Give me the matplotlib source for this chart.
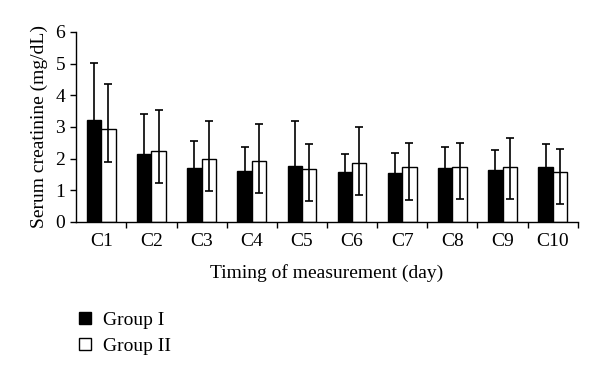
import numpy as np
import matplotlib.pyplot as plt
from matplotlib.lines import Line2D

plt.rcParams['font.family'] = ['Liberation Serif', 'DejaVu Serif']

# Data
labels = ["C1", "C2", "C3", "C4", "C5", "C6", "C7", "C8", "C9", "C10"]
g1_mean = [3.21, 2.14, 1.71, 1.61, 1.77, 1.57, 1.55, 1.71, 1.63, 1.72]
g1_upper = [5.02, 3.40, 2.55, 2.37, 3.20, 2.15, 2.17, 2.36, 2.26, 2.46]
g2_mean = [2.92, 2.24, 2.00, 1.93, 1.66, 1.86, 1.72, 1.75, 1.75, 1.59]
g2_upper = [4.34, 3.55, 3.19, 3.09, 2.47, 2.99, 2.49, 2.48, 2.66, 2.29]
g2_lower = [1.90, 1.23, 0.98, 0.92, 0.65, 0.86, 0.71, 0.73, 0.73, 0.58]

g1_mean = np.array(g1_mean)
g2_mean = np.array(g2_mean)
g1_err = np.array(g1_upper) - g1_mean
g2_err = [g2_mean - np.array(g2_lower), np.array(g2_upper) - g2_mean]

fig = plt.figure(figsize=(6, 3.75), dpi=100)
ax = fig.add_axes([0.127, 0.408, 0.836, 0.507])

x = np.arange(len(labels))
w = 0.285
ekw = dict(ecolor="black", elinewidth=1.2, capsize=3, capthick=1.2)
ax.bar(x - w / 2, g1_mean, w, color="black", edgecolor="black", linewidth=1,
       yerr=[g1_err, g1_err], error_kw=ekw)
ax.bar(x + w / 2, g2_mean, w, color="white", edgecolor="black", linewidth=1,
       yerr=g2_err, error_kw=ekw)

ax.set_xlim(-0.5, len(labels) - 0.5)
ax.set_ylim(0, 6)
ax.set_yticks(range(7))
ax.set_xticks(x)
ax.set_xticklabels(labels)
ax.set_xticks(np.arange(0.5, len(labels) - 0.5 + 0.01, 1), minor=True)
ax.tick_params(axis="x", which="major", length=0, labelsize=14, pad=8)
ax.tick_params(axis="x", which="minor", length=4, width=1)
ax.tick_params(axis="y", length=4, width=1, labelsize=14, pad=4)

for s in ["top", "right"]:
    ax.spines[s].set_visible(False)
ax.spines["left"].set_linewidth(1)
ax.spines["bottom"].set_linewidth(1)

ax.set_ylabel("Serum creatinine (mg/dL)", fontsize=14, labelpad=5)
ax.set_xlabel("Timing of measurement (day)", fontsize=14, labelpad=10)

handles = [
    Line2D([], [], marker="s", color="black", markerfacecolor="black", linestyle="none", markersize=8),
    Line2D([], [], marker="s", color="black", markerfacecolor="white", linestyle="none", markersize=8),
]
fig.legend(handles, ["Group I", "Group II"], loc="upper left",
           bbox_to_anchor=(0.11, 0.19), frameon=False, fontsize=14,
           handletextpad=0.3, labelspacing=0.4, borderaxespad=0, handlelength=1.2)

fig.savefig("out.png", dpi=100)
